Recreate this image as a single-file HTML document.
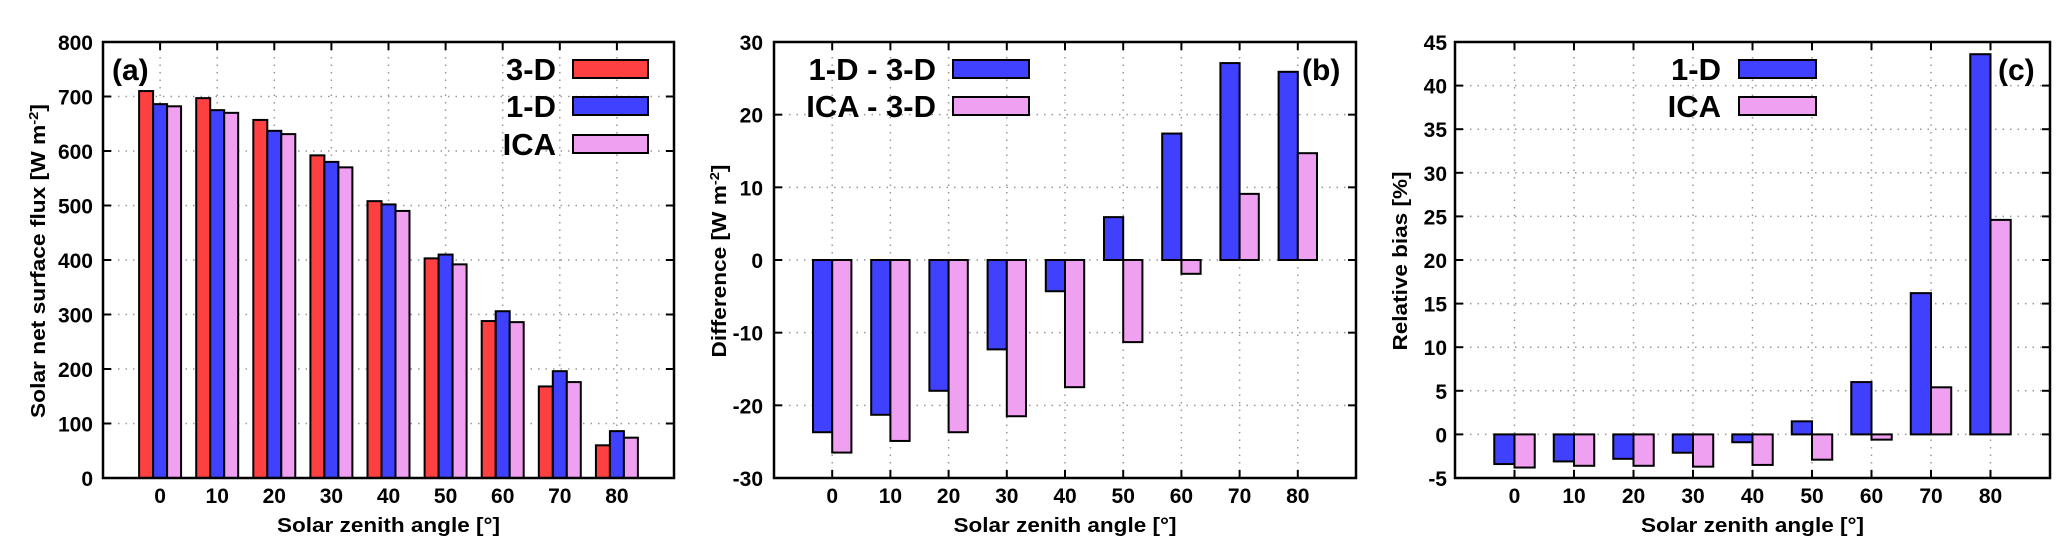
<!DOCTYPE html>
<html><head><meta charset="utf-8"><style>
html,body{margin:0;padding:0;background:#fff;}
svg{display:block;font-family:"Liberation Sans",Arial,sans-serif;font-weight:bold;}
</style></head><body>
<svg id="fig" width="2067" height="557" viewBox="0 0 2067 557" xmlns="http://www.w3.org/2000/svg"></svg>
<script>
const categories = [0,10,20,30,40,50,60,70,80];
const fluxTicks = [0,100,200,300,400,500,600,700,800];
const flux3D = [710,697,657,592,508,403,288,168,60];
const flux1D = [686,675,637,580,502,410,306,196,86];
const fluxICA = [682,670,631,570,490,392,286,176,74];
const diffTicks = [-30,-20,-10,0,10,20,30];
const diff1D = [-23.7,-21.3,-18,-12.3,-4.3,5.9,17.4,27.1,25.9];
const diffICA = [-26.5,-24.9,-23.7,-21.5,-17.5,-11.3,-1.9,9.1,14.7];
const biasTicks = [-5,0,5,10,15,20,25,30,35,40,45];
const bias1D = [-3.4,-3.1,-2.8,-2.1,-0.9,1.5,6,16.2,43.6];
const biasICA = [-3.8,-3.6,-3.6,-3.7,-3.5,-2.9,-0.6,5.4,24.6];

const RED="#ff4040", BLUE="#4040ff", PINK="#f0a0f0";
const svg=document.getElementById('fig');
const NS="http://www.w3.org/2000/svg";
function mk(tag,attrs,parent){const e=document.createElementNS(NS,tag);for(const k in attrs)e.setAttribute(k,attrs[k]);(parent||svg).appendChild(e);return e;}

function panel(cfg){
  const g=mk('g',{});
  
  
  const {L,R,T,B,ymin,ymax}=cfg;
  const xs=v=>L+(v+10)/100*(R-L);
  const ys=v=>B-(v-ymin)/(ymax-ymin)*(B-T);
  cfg.ticks.forEach(t=>{
    const y=ys(t);
    if(t!==ymin&&t!==ymax){
      const gl=mk('line',{x1:L,x2:R,y1:y,y2:y,stroke:'#999','stroke-width':1.5,'stroke-dasharray':'1.5 6'},g);
      
      
    }
    mk('line',{x1:L,x2:L+8,y1:y,y2:y,stroke:'#000','stroke-width':2},g);
    mk('line',{x1:R-8,x2:R,y1:y,y2:y,stroke:'#000','stroke-width':2},g);
    const tl=mk('text',{x:cfg.tickRight,y:y+8,'text-anchor':'end','font-size':21},g);
    tl.textContent=t;
    
    
  });
  categories.forEach(c=>{
    const x=xs(c);
    const gl=mk('line',{x1:x,x2:x,y1:T,y2:B,stroke:'#999','stroke-width':1.5,'stroke-dasharray':'1.5 6'},g);
    
    
    mk('line',{x1:x,x2:x,y1:B-8,y2:B,stroke:'#000','stroke-width':2},g);
    mk('line',{x1:x,x2:x,y1:T,y2:T+8,stroke:'#000','stroke-width':2},g);
    const tl=mk('text',{x:x,y:503,'text-anchor':'middle','font-size':21},g);
    tl.textContent=c;
    
    
  });
  const base=ys(Math.max(ymin,0));
  cfg.series.forEach((s,si)=>{
    s.data.forEach((v,i)=>{
      const x0=xs(categories[i]+s.off*cfg.bw), x1=xs(categories[i]+(s.off+1)*cfg.bw);
      const y=ys(v);
      const r=mk('rect',{x:x0,y:Math.min(y,base),width:x1-x0,height:Math.abs(base-y),fill:s.color,stroke:'#000','stroke-width':2},g);
      
      
    });
  });
  const fr=mk('rect',{x:L,y:T,width:R-L,height:B-T,fill:'none',stroke:'#000','stroke-width':2.5},g);
  
  
  const xt=mk('text',{x:(L+R)/2,y:532,'text-anchor':'middle','font-size':20,textLength:223,lengthAdjust:'spacingAndGlyphs'},g);
  xt.textContent='Solar zenith angle [°]';
  
  
  const yt=mk('text',{x:0,y:0,'text-anchor':'middle','font-size':20,textLength:cfg.ytLen,lengthAdjust:'spacingAndGlyphs',transform:`translate(${cfg.ytX},261) rotate(-90)`},g);
  yt.innerHTML=cfg.ytitle;
  
  
  cfg.series.forEach((s,si)=>{
    const cy=cfg.legY[si];
    const lt=mk('text',{x:cfg.legTextR,y:cy+11,'text-anchor':'end','font-size':31},g);
    lt.textContent=s.label;
    
    
    const lb=mk('rect',{x:cfg.legBox[0],y:cy-9,width:cfg.legBox[1]-cfg.legBox[0],height:18,fill:s.color,stroke:'#000','stroke-width':2},g);
    
    
  });
  const pl=mk('text',{x:cfg.plX,y:80,'font-size':30},g);
  pl.textContent=cfg.plabel;
  
  
}

panel({name:'panel-a',L:103,R:674,T:42,B:478,ymin:0,ymax:800,ticks:fluxTicks,tickRight:93,bw:2.45,
  series:[{key:'3d',data:flux3D,color:RED,off:-1.5,label:'3-D'},{key:'1d',data:flux1D,color:BLUE,off:-0.5,label:'1-D'},{key:'ica',data:fluxICA,color:PINK,off:0.5,label:'ICA'}],
  ytX:45,ytLen:314,ytitle:'Solar net surface flux [W m<tspan baseline-shift="super" font-size="13">-2</tspan>]',
  legY:[69,106,144],legTextR:556,legBox:[573,648],plX:112,plabel:'(a)'});
panel({name:'panel-b',L:774,R:1356,T:42,B:478,ymin:-30,ymax:30,ticks:diffTicks,tickRight:763,bw:3.3,
  series:[{key:'1d-minus-3d',data:diff1D,color:BLUE,off:-1,label:'1-D - 3-D'},{key:'ica-minus-3d',data:diffICA,color:PINK,off:0,label:'ICA - 3-D'}],
  ytX:726,ytLen:193,ytitle:'Difference [W m<tspan baseline-shift="super" font-size="13">-2</tspan>]',
  legY:[69,106],legTextR:936,legBox:[953,1029],plX:1302,plabel:'(b)'});
panel({name:'panel-c',L:1455,R:2050,T:42,B:478,ymin:-5,ymax:45,ticks:biasTicks,tickRight:1447,bw:3.4,
  series:[{key:'1d',data:bias1D,color:BLUE,off:-1,label:'1-D'},{key:'ica',data:biasICA,color:PINK,off:0,label:'ICA'}],
  ytX:1407,ytLen:179,ytitle:'Relative bias [%]',
  legY:[69,106],legTextR:1721,legBox:[1739,1816],plX:1998,plabel:'(c)'});
</script>
</body></html>
